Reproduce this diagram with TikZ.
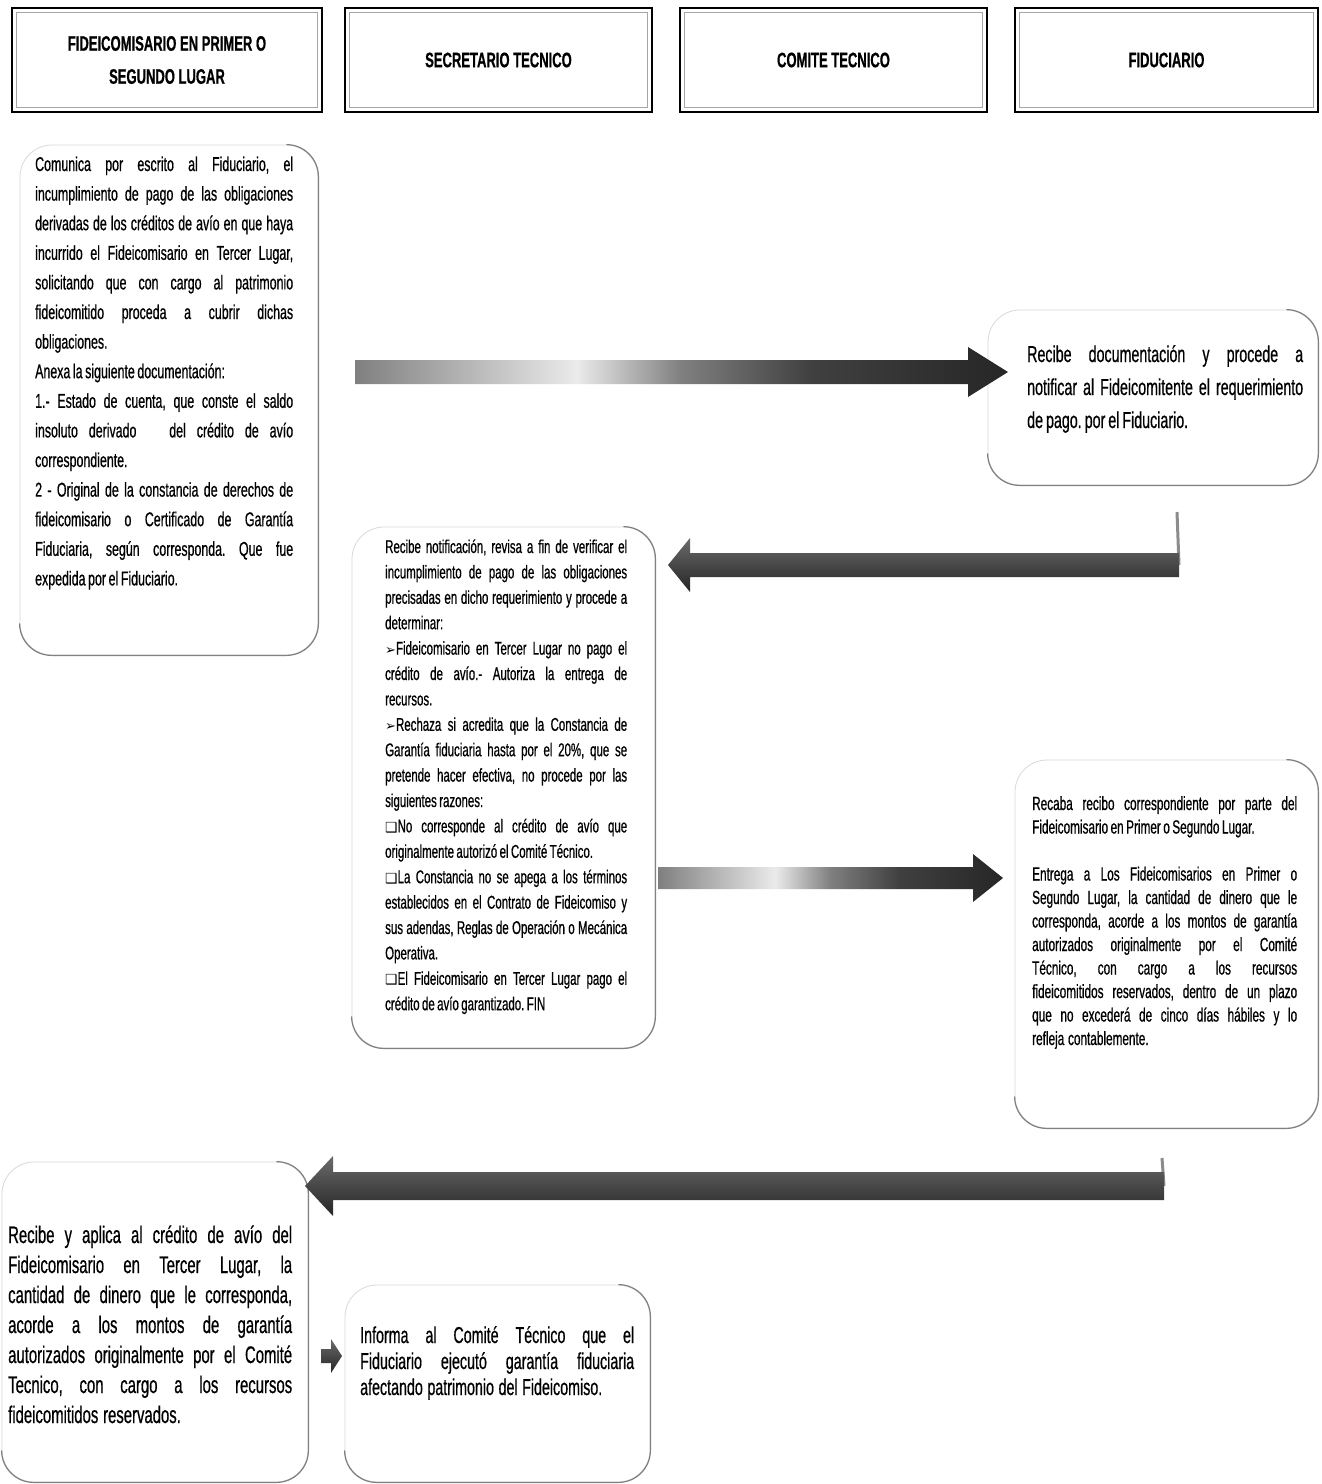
\documentclass[tikz,border=0pt]{standalone}
\usepackage{graphicx}
\usepackage{fontspec}
\setmainfont{Liberation Sans}
\newfontfamily\nar{Liberation Sans}[FakeStretch=0.62, FakeBold=0.6]
\newfontfamily\symf{DejaVu Sans}
\usetikzlibrary{calc}
\frenchspacing
\newcommand{\J}[1]{\makebox[\hsize][s]{\spaceskip=0.16em plus 1fil minus 0.04em\relax #1}}
\newcommand{\N}[1]{{\spaceskip=0.13em plus 0.03em minus 0.02em\relax #1}}
\newcommand{\M}[1]{{\spaceskip=0.2em plus 0.04em minus 0.02em\relax #1}}
\newcommand{\arw}{{\symf\scalebox{0.7}{➢}}}
\newcommand{\sqb}{{\symf\scalebox{0.75}{❑}}}
\newcommand{\blockarrow}[6]{%
  \shade[#1] ($(#2)+(0,-#4)$) -- ($(#3)+(#6,-#4)$) -- ($(#3)+(#6,-#5)$) -- (#3)
    -- ($(#3)+(#6,#5)$) -- ($(#3)+(#6,#4)$) -- ($(#2)+(0,#4)$) -- cycle;}
\pgfdeclarehorizontalshading{arrlt}{100bp}{color(0bp)=(black!50); color(25bp)=(black!50); color(42bp)=(black!8); color(50bp)=(black!50); color(60bp)=(black!75); color(75bp)=(black!85); color(100bp)=(black!85)}
\tikzset{
  hbox/.style={draw=black, line width=1.6pt, minimum height=104pt, align=center, inner sep=0pt,
    font={\nar\bfseries\fontsize{21}{33}\selectfont}},
  hin/.style={draw=black!35, line width=0.8pt},
  rbox/.style={draw=black!15, line width=0.8pt, rounded corners=32pt, inner sep=0pt},
  redge/.style={draw=black!50, line width=1.2pt, rounded corners=32pt},
  txt/.style={inner sep=0pt, align=left, anchor=base west},
  darkarrow/.style={top color=black!58, bottom color=black!85, middle color=black!72},
  lightarrow/.style={shading=arrlt},
  stub/.style={draw=black!45, line width=3pt},
  fA/.style={font={\nar\fontsize{20}{29.6}\selectfont}},
  fB/.style={font={\nar\fontsize{23}{33}\selectfont}},
  fC/.style={font={\nar\fontsize{18.5}{25.4}\selectfont}},
  fD/.style={font={\nar\fontsize{19}{23.5}\selectfont}},
  fE/.style={font={\nar\fontsize{24}{30}\selectfont}},
  fF/.style={font={\nar\fontsize{23}{26}\selectfont}},
}
\begin{document}
\begin{tikzpicture}[x=1pt,y=-1pt]
\path[fill=white] (0,0) rectangle (1322,1484);
\useasboundingbox (0,0) rectangle (1322,1484);

% headers
\node[hbox, minimum width=310pt] (h1) at (167,60) {FIDEICOMISARIO EN PRIMER O\\SEGUNDO LUGAR};
\node[hbox, minimum width=307pt] (h2) at (498.5,60) {SECRETARIO TECNICO};
\node[hbox, minimum width=307pt] (h3) at (833.5,60) {COMITE TECNICO};
\node[hbox, minimum width=303pt] (h4) at (1166.5,60) {FIDUCIARIO};
\foreach \h in {h1,h2,h3,h4}{
  \draw[hin] ([shift={(5pt,5pt)}]\h.south west) rectangle ([shift={(-5pt,-5pt)}]\h.north east);
}

% box shapes
\node[rbox, minimum width=298pt, minimum height=510pt] (b1) at (169,400) {};
\node[rbox, minimum width=330pt, minimum height=175pt] (f1) at (1153,397.5) {};
\node[rbox, minimum width=303pt, minimum height=521pt] (s1) at (503.5,787.5) {};
\node[rbox, minimum width=303pt, minimum height=368pt] (f2) at (1166.5,944) {};
\node[rbox, minimum width=306pt, minimum height=320pt] (l2) at (155,1322) {};
\node[rbox, minimum width=305pt, minimum height=197pt] (s2) at (497.5,1383.5) {};
\foreach \b in {b1,f1,s1,f2,l2,s2}{
  \draw[redge] ([xshift=-32pt]\b.north east) -- (\b.north east) -- (\b.south east)
     -- (\b.south west) -- ([yshift=32pt]\b.south west);
}

% box texts
\node[txt, fA, text width=258pt] (b1t) at (35,171) {%
\J{Comunica por escrito al Fiduciario, el}\\
\J{incumplimiento de pago de las obligaciones}\\
\J{derivadas de los créditos de avío en que haya}\\
\J{incurrido el Fideicomisario en Tercer Lugar,}\\
\J{solicitando que con cargo al patrimonio}\\
\J{fideicomitido proceda a cubrir dichas}\\
\N{obligaciones.}\\
\N{Anexa la siguiente documentación:}\\
\J{1.- Estado de cuenta, que conste el saldo}\\
\J{insoluto derivado \ \ del crédito de avío}\\
\N{correspondiente.}\\
\J{2 - Original de la constancia de derechos de}\\
\J{fideicomisario o Certificado de Garantía}\\
\J{Fiduciaria, según corresponda. Que fue}\\
\N{expedida por el Fiduciario.}};

\node[txt, fB, text width=276pt] (f1t) at (1027,362) {%
\J{Recibe documentación y procede a}\\
\J{notificar al Fideicomitente el requerimiento}\\
\N{de pago. por el Fiduciario.}};

\node[txt, fC, text width=242pt] (s1t) at (385,553) {%
\J{Recibe notificación, revisa a fin de verificar el}\\
\J{incumplimiento de pago de las obligaciones}\\
\J{precisadas en dicho requerimiento y procede a}\\
\N{determinar:}\\
\J{\arw Fideicomisario en Tercer Lugar no pago el}\\
\J{crédito de avío.- Autoriza la entrega de}\\
\N{recursos.}\\
\J{\arw Rechaza si acredita que la Constancia de}\\
\J{Garantía fiduciaria hasta por el 20\%, que se}\\
\J{pretende hacer efectiva, no procede por las}\\
\N{siguientes razones:}\\
\J{\sqb No corresponde al crédito de avío que}\\
\N{originalmente autorizó el Comité Técnico.}\\
\J{\sqb La Constancia no se apega a los términos}\\
\J{establecidos en el Contrato de Fideicomiso y}\\
\J{sus adendas, Reglas de Operación o Mecánica}\\
\N{Operativa.}\\
\J{\sqb El Fideicomisario en Tercer Lugar pago el}\\
\N{crédito de avío garantizado. FIN}};

\node[txt, fD, text width=265pt] (f2t) at (1032,810) {%
\J{Recaba recibo correspondiente por parte del}\\
\N{Fideicomisario en Primer o Segundo Lugar.}\\[23.5pt]
\J{Entrega a Los Fideicomisarios en Primer o}\\
\J{Segundo Lugar, la cantidad de dinero que le}\\
\J{corresponda, acorde a los montos de garantía}\\
\J{autorizados originalmente por el Comité}\\
\J{Técnico, con cargo a los recursos}\\
\J{fideicomitidos reservados, dentro de un plazo}\\
\J{que no excederá de cinco días hábiles y lo}\\
\M{refleja contablemente.}};

\node[txt, fE, text width=284pt] (l2t) at (8,1243) {%
\J{Recibe y aplica al crédito de avío del}\\
\J{Fideicomisario en Tercer Lugar, la}\\
\J{cantidad de dinero que le corresponda,}\\
\J{acorde a los montos de garantía}\\
\J{autorizados originalmente por el Comité}\\
\J{Tecnico, con cargo a los recursos}\\
\M{fideicomitidos reservados.}};

\node[txt, fF, text width=274pt] (s2t) at (360,1343) {%
\J{Informa al Comité Técnico que el}\\
\J{Fiduciario ejecutó garantía fiduciaria}\\
\M{afectando patrimonio del Fideicomiso.}};

% arrows
\coordinate (a1s) at (355,372);  \coordinate (a1e) at (1008,372);
\coordinate (a2s) at (1179,565); \coordinate (a2e) at (668,565); \coordinate (a2t) at (1177,512);
\coordinate (a3s) at (658,878);  \coordinate (a3e) at (1003,878);
\coordinate (a4s) at (1164,1186); \coordinate (a4e) at (305,1186); \coordinate (a4t) at (1162,1158);
\coordinate (a5s) at (321,1356); \coordinate (a5e) at (342,1356);

\draw[stub] (a2t) -- (a2s);
\draw[stub] (a4t) -- (a4s);
\blockarrow{lightarrow}{a1s}{a1e}{12}{25}{-40}
\blockarrow{darkarrow}{a2s}{a2e}{12}{27}{22}
\blockarrow{lightarrow}{a3s}{a3e}{11}{24}{-30}
\blockarrow{darkarrow}{a4s}{a4e}{14}{30}{28}
\blockarrow{darkarrow}{a5s}{a5e}{7}{17}{-11}
\end{tikzpicture}
\end{document}
